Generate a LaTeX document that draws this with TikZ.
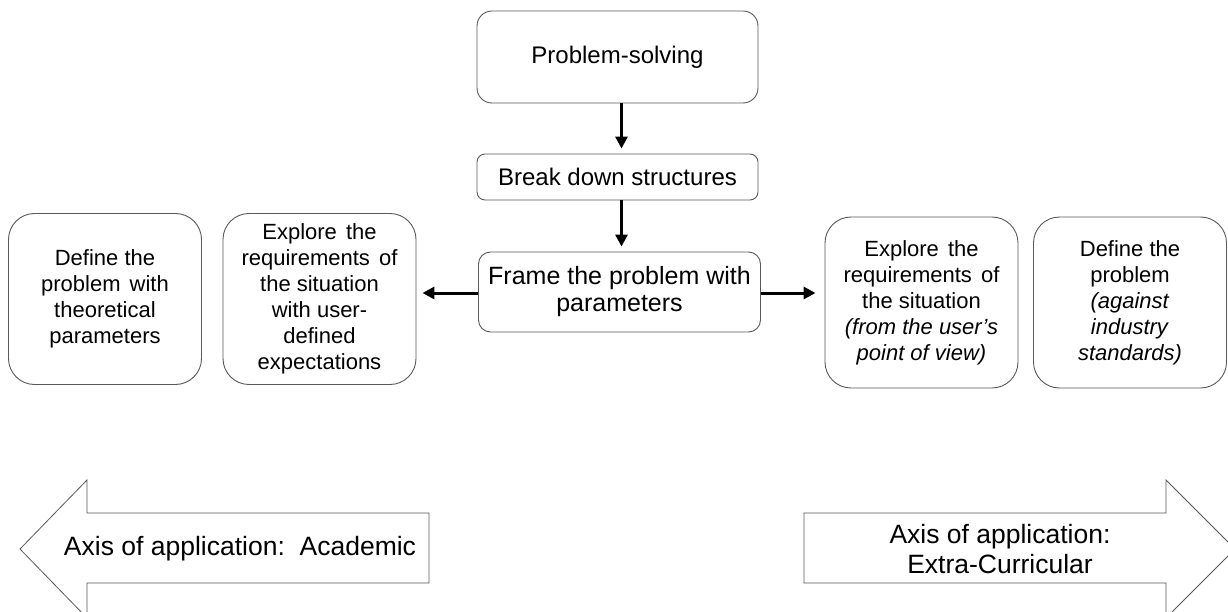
\documentclass[tikz,border=0pt]{standalone}
\usepackage{fontspec}
\setmainfont{Liberation Sans}
\usetikzlibrary{arrows.meta}
\definecolor{edgegray}{HTML}{595959}
% a slightly widened word space
\newcommand{\wsp}{\ \hspace{3pt}}
\begin{document}
\begin{tikzpicture}[x=1pt,y=-1pt,
  box/.style={draw=edgegray, line width=0.9pt, rounded corners=#1,
    align=center, inner sep=0pt, text=black},
  smallbox/.style={box=26pt, minimum width=193pt, minimum height=171pt,
    font=\fontsize{22}{26}\selectfont},
  flow/.style={line width=3pt, -{Triangle[length=12pt,width=12pt]}},
  axis/.style={draw=edgegray, line width=0.8pt, fill=white},
  axislabel/.style={align=center, inner sep=0pt,
    font=\fontsize{26.5}{30}\selectfont}]
% page frame
\useasboundingbox (0,0) rectangle (1228,612);
\clip (0,0) rectangle (1228,612);
\fill[white] (0,0) rectangle (1228,612);

% central column
\node[box=15pt, minimum width=281pt, minimum height=92pt,
  font=\fontsize{24}{28}\selectfont] (ps) at (617.5,57) {Problem-solving};
\node[box=8pt, minimum width=281pt, minimum height=46pt,
  font=\fontsize{24}{28}\selectfont] (bd) at (617.5,177) {Break down structures};
\node[box=12pt, minimum width=282pt, minimum height=80pt,
  font=\fontsize{25}{27}\selectfont] (fr) at (619.5,292)
  {Frame the problem with\\parameters};

% side boxes
\node[smallbox] (b1) at (105,299)
  {Define the\\problem\wsp with\\theoretical\\parameters};
\node[smallbox] (b2) at (319.5,299)
  {Explore\wsp the\\requirements\wsp of\\the situation\\with user-\\defined\\expectations};
\node[smallbox] (b3) at (921.5,302.5)
  {Explore\wsp the\\requirements\wsp of\\the situation\\\textit{(from the user’s}\\\textit{point of view)}};
\node[smallbox] (b4) at (1130,302.5)
  {Define the\\problem\\\textit{(against}\\\textit{industry}\\\textit{standards)}};

% connectors
\draw[flow, shorten >=5pt] ([xshift=4pt]ps.south) -- ([xshift=4pt]ps.south |- bd.north);
\draw[flow, shorten >=5pt] ([xshift=4pt]bd.south) -- ([xshift=4pt]bd.south |- fr.north);
\draw[flow, shorten >=6pt] ([yshift=-1pt]fr.west) -- ([yshift=-1pt]fr.west -| b2.east);
\draw[flow, shorten >=9pt] ([yshift=-1pt]fr.east) -- ([yshift=-1pt]fr.east -| b3.west);

% axis arrows
\draw[axis] (429,513) -- (87,513) -- (87,480) -- (20,549) -- (87,618)
  -- (87,583) -- (429,583) -- cycle;
\node[axislabel] (acad) at (240,549) {Axis of application:\ \ Academic};
\draw[axis] (804,513) -- (1166,513) -- (1166,480) -- (1235,549) -- (1166,618)
  -- (1166,583) -- (804,583) -- cycle;
\node[axislabel] (extra) at (1000,549) {Axis of application:\\Extra-Curricular};
\end{tikzpicture}
\end{document}
